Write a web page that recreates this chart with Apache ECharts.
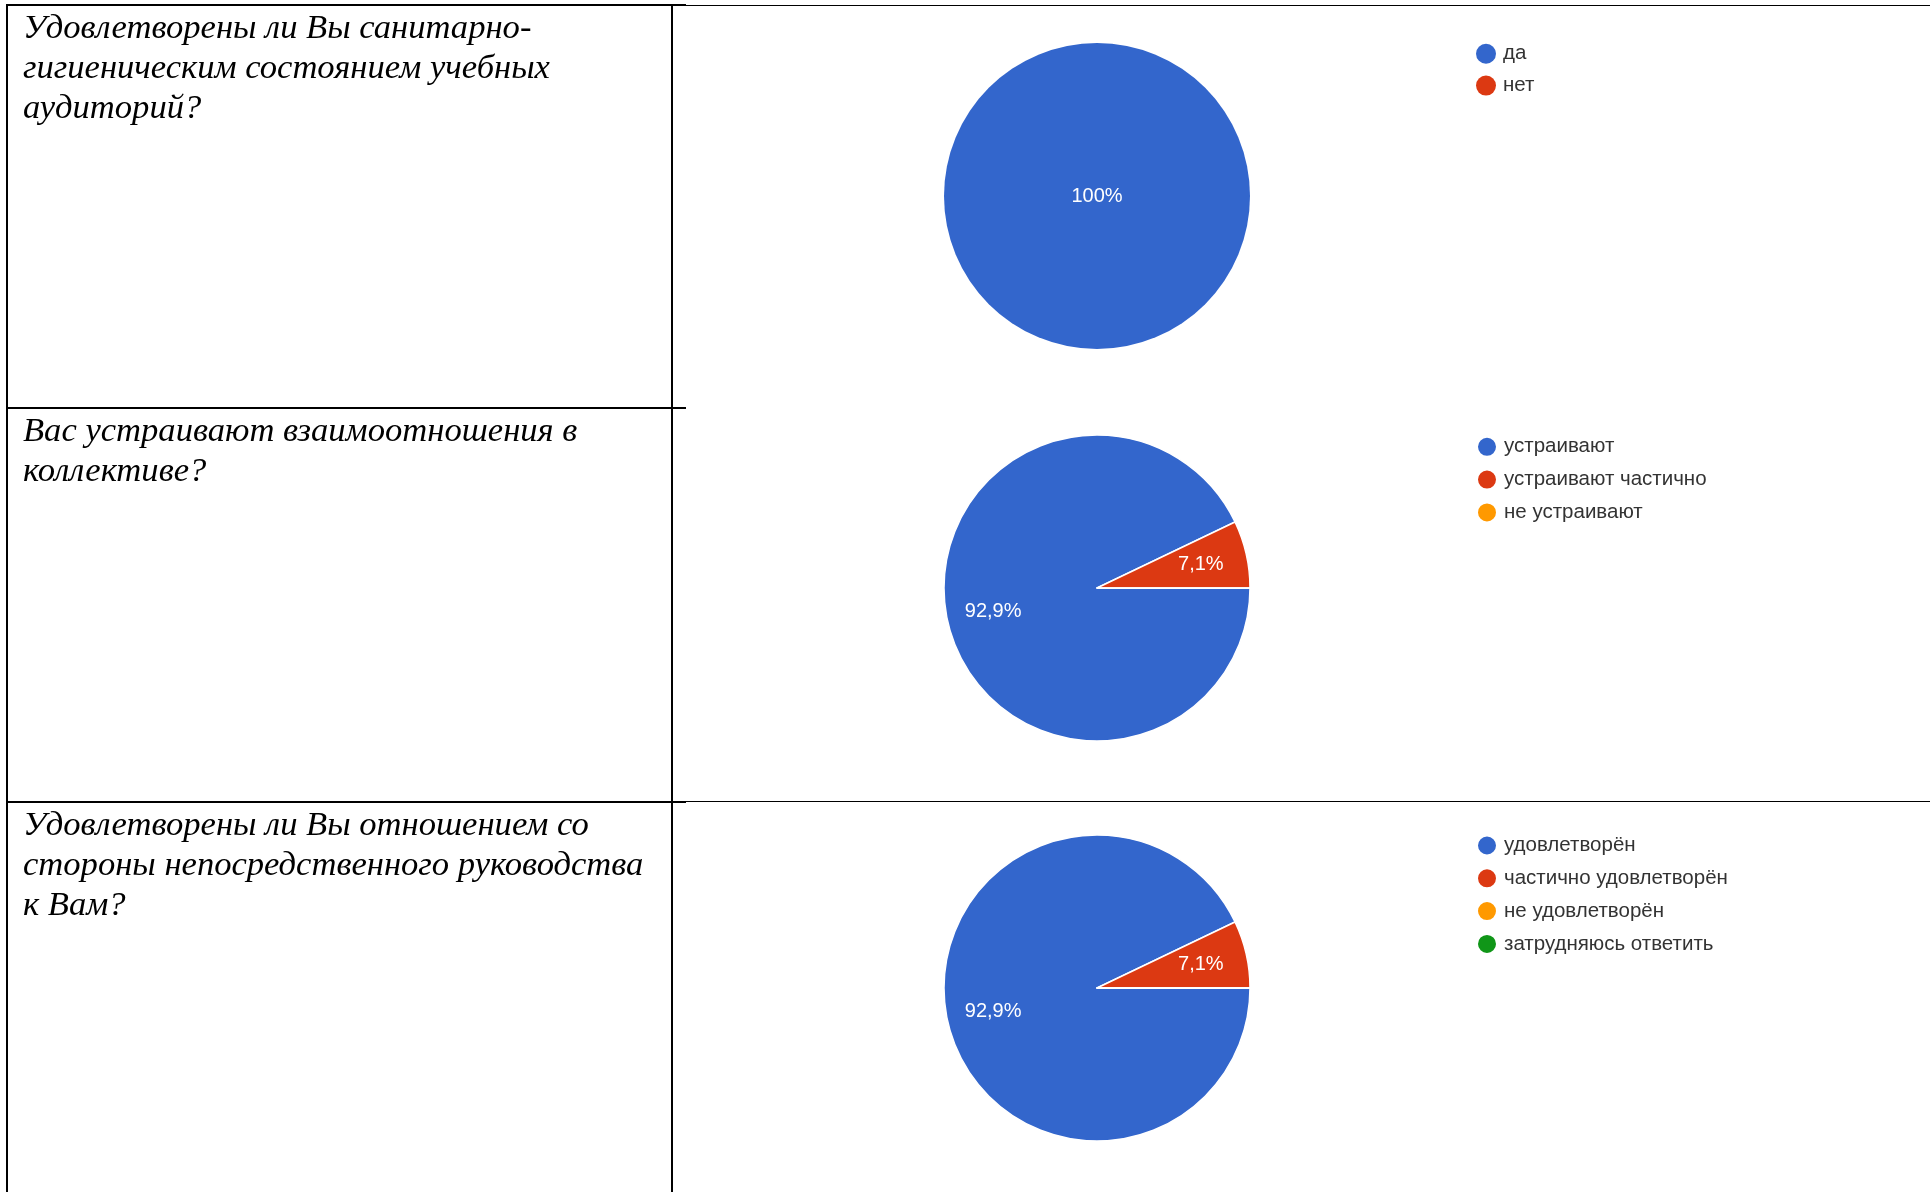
<!DOCTYPE html>
<html><head><meta charset="utf-8">
<script src="https://cdn.jsdelivr.net/npm/echarts@6/dist/echarts.min.js"></script>
<style>html,body{margin:0;padding:0;background:#fff}#c{width:1930px;height:1192px}</style>
</head><body><div id="c"></div>
<script>
// ---- data ----
const questions = [
  ['Удовлетворены ли Вы санитарно-', 'гигиеническим состоянием учебных', 'аудиторий?'],
  ['Вас устраивают взаимоотношения в', 'коллективе?'],
  ['Удовлетворены ли Вы отношением со', 'стороны непосредственного руководства', 'к Вам?']
];
const cats1 = ['да', 'нет'];
const vals1 = [100, 0];
const cats2 = ['устраивают', 'устраивают частично', 'не устраивают'];
const vals2 = [92.9, 7.1, 0];
const cats3 = ['удовлетворён', 'частично удовлетворён', 'не удовлетворён', 'затрудняюсь ответить'];
const vals3 = [92.9, 7.1, 0, 0];

const palette = ['#3366cc', '#dc3912', '#ff9900', '#109618'];
const rowTops = [5, 408, 802];
const pieCenters = [[1097, 196], [1097, 588], [1097, 988]];
const legendTops = [43.3, 435.8, 834.5];
const R = 153;

const chart = echarts.init(document.getElementById('c'), null, {renderer: 'canvas'});

function toData(cats, vals) {
  return cats.map((n, i) => ({name: n, value: vals[i], itemStyle: {color: palette[i]}}));
}
const fmt = p => p.value > 0 ? (String(p.value).replace('.', ',') + '%') : '';
const labelStyle = {color: '#fff', fontSize: 20, fontFamily: '"Liberation Sans", Arial, sans-serif'};

const sets = [[cats1, vals1], [cats2, vals2], [cats3, vals3]];
const series = [];
const legends = [];
sets.forEach(([cats, vals], k) => {
  const single = vals.filter(v => v > 0).length === 1;
  series.push({
    type: 'pie', center: pieCenters[k], radius: [0, R], startAngle: 0, clockwise: true,
    avoidLabelOverlap: false, silent: true, animation: false,
    itemStyle: {borderColor: '#fff', borderWidth: single ? 0 : 1.5},
    label: single ? Object.assign({show: true, position: 'center', formatter: fmt}, labelStyle) : {show: false},
    labelLine: {show: false},
    data: toData(cats, vals)
  });
  if (!single) {
    series.push({
      type: 'pie', center: pieCenters[k], radius: [54, R], startAngle: 0, clockwise: true,
      avoidLabelOverlap: false, silent: true, animation: false,
      itemStyle: {color: 'rgba(0,0,0,0)', borderWidth: 0},
      label: Object.assign({show: true, position: 'inside', formatter: fmt}, labelStyle),
      labelLine: {show: false},
      data: cats.map((n, i) => ({name: n, value: vals[i], itemStyle: {color: 'rgba(0,0,0,0)'}}))
    });
  }
  legends.push({
    orient: 'vertical', left: 1476, top: legendTops[k], icon: 'circle', padding: 0,
    itemWidth: 24, itemHeight: 20, itemGap: 10.8, selectedMode: false,
    textStyle: {fontSize: 20.5, lineHeight: 20, color: '#333', fontFamily: '"Liberation Sans", Arial, sans-serif'},
    data: cats.map((n, i) => ({name: n, itemStyle: {color: palette[i]}}))
  });
});

// table lines and question texts
const g = [];
const thick = {stroke: '#000', lineWidth: 2};
const thin = {stroke: '#000', lineWidth: 1};
g.push({type: 'line', shape: {x1: 7, y1: 5, x2: 7, y2: 1192}, style: thick, silent: true});
g.push({type: 'line', shape: {x1: 672, y1: 5, x2: 672, y2: 1192}, style: thick, silent: true});
g.push({type: 'line', shape: {x1: 6, y1: 5, x2: 686, y2: 5}, style: thick, silent: true});
g.push({type: 'line', shape: {x1: 686, y1: 5.5, x2: 1930, y2: 5.5}, style: thin, silent: true});
g.push({type: 'line', shape: {x1: 6, y1: 408, x2: 686, y2: 408}, style: thick, silent: true});
g.push({type: 'line', shape: {x1: 6, y1: 802, x2: 686, y2: 802}, style: thick, silent: true});
g.push({type: 'line', shape: {x1: 686, y1: 801.5, x2: 1930, y2: 801.5}, style: thin, silent: true});
questions.forEach((lines, k) => {
  lines.forEach((t, j) => {
    g.push({type: 'text', left: 23, top: rowTops[k] + 6 + j * 40, silent: true,
      style: {text: t, font: 'italic 34.6px "Liberation Serif", "Times New Roman", serif', fill: '#000'}});
  });
});

chart.setOption({animation: false, legend: legends, series: series, graphic: g});
</script></body></html>
